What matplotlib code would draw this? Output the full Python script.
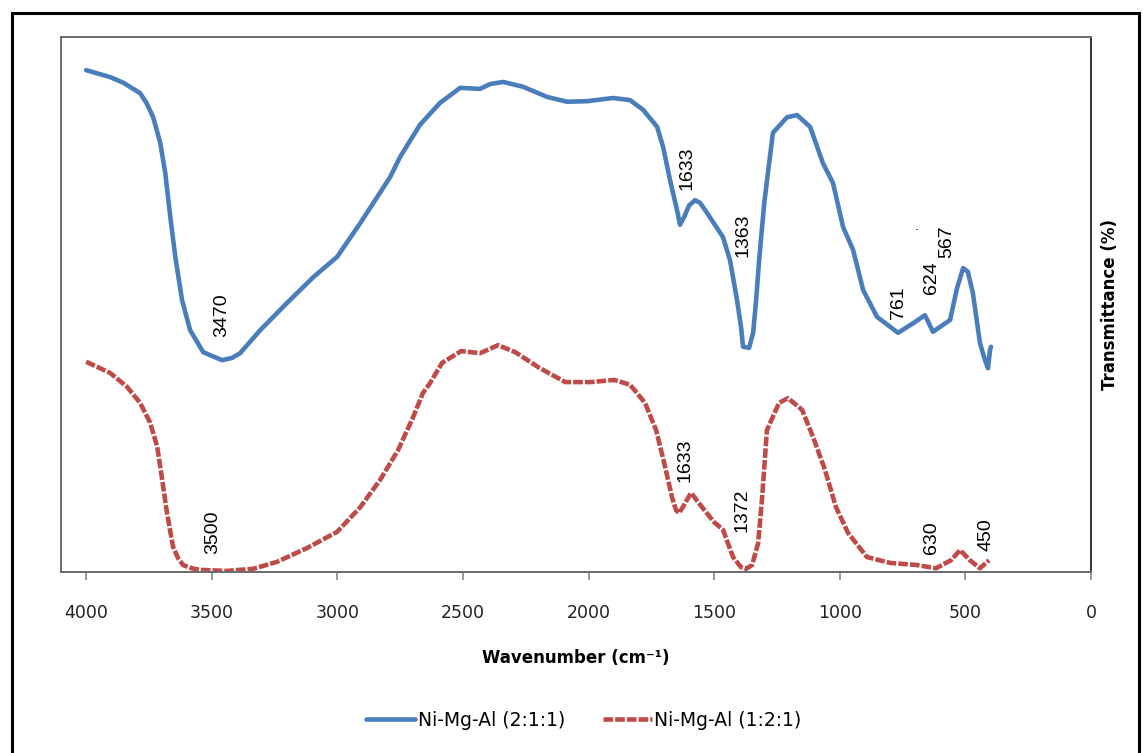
import matplotlib
matplotlib.use('Agg')
import matplotlib.pyplot as plt
from matplotlib.patches import Rectangle

''' Data read from the reference '''
# Ni-Mg-Al (2:1:1) spectrum
wn_211 = [4000, 3904, 3850, 3785, 3760, 3733, 3705, 3685, 3665, 3645, 3618, 3586,
          3534, 3500, 3459, 3420, 3387, 3307, 3200, 3096, 3001, 2909, 2790, 2750,
          2671, 2591, 2511, 2432, 2392, 2340, 2261, 2165, 2086, 2006, 1902, 1835,
          1783, 1727, 1703, 1676, 1648, 1636, 1620, 1600, 1576, 1556, 1528, 1465,
          1437, 1409, 1393, 1385, 1361, 1345, 1333, 1321, 1301, 1285, 1266, 1210,
          1170, 1118, 1067, 1027, 987, 947, 907, 852, 768, 708, 661, 629, 561,
          533, 509, 490, 470, 442, 422, 410, 402, 398]
t_211 = [93.8, 92.5, 91.4, 89.5, 87.7, 85.0, 80.2, 74.6, 66.4, 58.9, 50.8, 45.2,
         41.1, 40.4, 39.6, 40.0, 40.9, 45.2, 50.3, 55.1, 58.9, 65.2, 73.8, 77.6,
         83.6, 87.7, 90.5, 90.3, 91.2, 91.6, 90.7, 88.8, 87.9, 88.0, 88.6, 88.2,
         86.4, 83.2, 79.4, 73.3, 67.7, 64.9, 66.3, 68.5, 69.5, 69.0, 67.1, 62.6,
         58.3, 50.8, 45.8, 42.1, 41.9, 44.7, 50.8, 58.3, 68.8, 75.0, 82.1, 85.0,
         85.4, 83.2, 76.4, 72.7, 64.5, 60.2, 52.7, 47.7, 44.7, 46.5, 48.0, 44.9,
         47.1, 53.1, 56.8, 56.1, 52.1, 42.8, 39.6, 38.1, 41.5, 42.1]

# Ni-Mg-Al (1:2:1) spectrum
wn_121 = [4000, 3904, 3837, 3785, 3745, 3717, 3697, 3678, 3654, 3634, 3614, 3580,
          3546, 3439, 3335, 3240, 3120, 3001, 2909, 2830, 2758, 2698, 2659, 2631,
          2583, 2507, 2432, 2360, 2292, 2201, 2093, 1990, 1898, 1835, 1775, 1731,
          1699, 1668, 1652, 1640, 1620, 1592, 1548, 1500, 1465, 1425, 1393, 1373,
          1349, 1325, 1309, 1290, 1242, 1206, 1150, 1106, 1059, 1015, 967, 892,
          800, 693, 617, 557, 521, 482, 442, 406]
t_121 = [39.3, 37.2, 34.6, 31.6, 27.9, 23.4, 17.2, 11.0, 4.7, 2.6, 1.3, 0.7,
         0.4, 0.2, 0.6, 1.9, 4.5, 7.5, 12.1, 17.2, 22.8, 29.0, 33.5, 35.3,
         39.1, 41.3, 40.9, 42.4, 41.1, 38.3, 35.5, 35.5, 35.9, 35.0, 31.6, 26.5,
         20.4, 14.0, 11.6, 11.0, 12.5, 14.8, 12.1, 9.3, 7.9, 2.8, 0.9, 0.6,
         1.3, 5.4, 14.0, 26.5, 31.6, 32.5, 30.3, 25.2, 19.1, 12.1, 7.3, 2.8,
         1.7, 1.3, 0.7, 2.2, 4.1, 2.2, 0.7, 2.2]

# Peak labels: text, x, y
labels_211 = ['3470', '1633', '1363', '761', '624', '567']
lx_211 = [3459, 1608, 1385, 768, 633, 573]
ly_211 = [48.0, 75.5, 63.0, 50.3, 55.0, 61.7]

labels_121 = ['3500', '1633', '1372', '630', '450']
lx_121 = [3498, 1616, 1389, 633, 418]
ly_121 = [7.5, 20.9, 11.6, 6.5, 6.9]

x_ticks = [4000, 3500, 3000, 2500, 2000, 1500, 1000, 500, 0]

blue = '#4A7EBB'
red = '#BE4B48'
W, H = 1143, 753

fig = plt.figure(figsize=(W / 100, H / 100), dpi=100)
ax = fig.add_axes([61 / W, 1 - 572 / H, 1030 / W, 535 / H])

ax.plot(wn_211, t_211, color=blue, lw=3.3, solid_joinstyle='round',
        solid_capstyle='round', label='Ni-Mg-Al (2:1:1)')
ax.plot(wn_121, t_121, color=red, lw=3.3, linestyle=(0, (2.1, 0.45)),
        dash_joinstyle='round', label='Ni-Mg-Al (1:2:1)')

for txt, x, y in zip(labels_211, lx_211, ly_211):
    ax.text(x, y, txt, rotation=90, ha='center', va='center',
            fontsize=14, family='Liberation Sans')
for txt, x, y in zip(labels_121, lx_121, ly_121):
    ax.text(x, y, txt, rotation=90, ha='center', va='center',
            fontsize=14, family='Liberation Sans')
# stray dot above the 624 label
ax.text(693, 64.5, '.', ha='center', va='center', fontsize=9)

ax.set_xlim(4100, 0)
ax.set_ylim(0, 100)
ax.set_xticks(x_ticks)
ax.set_xticklabels([str(v) for v in x_ticks], family='DejaVu Sans', fontsize=12.5)
ax.set_yticks([])
ax.tick_params(axis='x', direction='out', length=6, width=1.2, color='#888888',
               pad=17, labelcolor='#222222')
for side in ['left', 'top', 'bottom']:
    ax.spines[side].set_color('#6b6b6b')
    ax.spines[side].set_linewidth(1.4)
ax.spines['right'].set_color('#333333')
ax.spines['right'].set_linewidth(1.4)

fig.text(576 / W, 1 - 658 / H, 'Wavenumber (cm⁻¹)', ha='center', va='center',
         fontsize=12, fontweight='bold', family='DejaVu Sans')
fig.text(1110 / W, 1 - 305 / H, 'Transmittance (%)', ha='center', va='center',
         rotation=90, fontsize=12, fontweight='bold', family='DejaVu Sans')

fig.legend(loc='center', bbox_to_anchor=(584 / W, 1 - 720 / H), ncol=2,
           frameon=False, handlelength=2.6, handletextpad=0.15,
           columnspacing=2.0, prop={'family': 'DejaVu Sans', 'size': 13.5})

# outer chart border
fig.patches.append(Rectangle((12 / W, -0.05), 1127 / W, 1 - 13 / H + 0.05,
                             transform=fig.transFigure, fill=False,
                             edgecolor='black', linewidth=2.2))

fig.savefig('out.png', dpi=100)
